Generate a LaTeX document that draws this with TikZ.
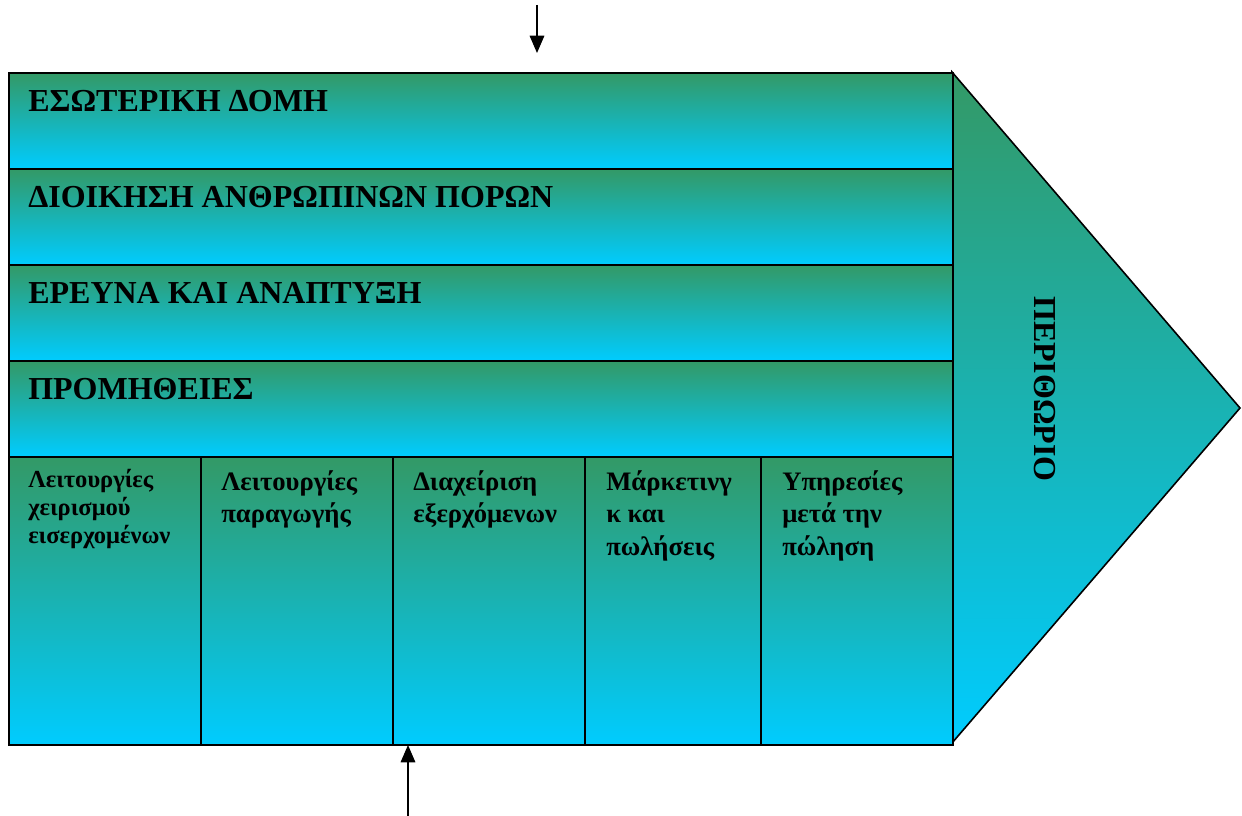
\documentclass[tikz,border=0pt]{standalone}
\usepackage{fontspec}
\setmainfont{Liberation Serif}
\usetikzlibrary{arrows.meta}
\definecolor{valgreen}{RGB}{51,153,102}
\definecolor{valcyan}{RGB}{0,204,255}
\tikzset{
    band/.style={draw, line width=1.2pt, rectangle, anchor=north west, inner sep=0pt, top color=valgreen, bottom color=valcyan, minimum width=708pt, minimum height=72pt},
    cell/.style={draw, line width=1.2pt, rectangle, anchor=north west, inner sep=0pt, top color=valgreen, bottom color=valcyan, minimum height=216pt},
    bandtext/.style={anchor=base west, inner sep=0pt, font=\fontsize{24}{28}\selectfont\bfseries},
    celltext/.style={anchor=north west, inner sep=0pt, align=left, font=\fontsize{20}{24.5}\selectfont\bfseries},
    flowArrow/.style={line width=0.9pt, -{Triangle[length=13pt, width=11pt]}},
}
\begin{document}
\begin{tikzpicture}[x=0.75pt, y=-0.75pt]
\useasboundingbox (0,0) rectangle (1242,816);

% margin arrow
\shade[draw, line width=1.2pt, top color=valgreen, bottom color=valcyan] (952,72) -- (1240,408) -- (952,743) -- cycle;
\node[rotate=-90, font=\fontsize{24}{28}\selectfont\bfseries] (margin) at (1045,389) {ΠΕΡΙΘΩΡΙΟ};

% support activities
\node[band] (structure) at (8,72) {};
\node[band] (hrm) at (8,168) {};
\node[band] (rnd) at (8,264) {};
\node[band] (supply) at (8,360) {};
\node[bandtext] (structureL) at (28,112) {ΕΣΩΤΕΡΙΚΗ ΔΟΜΗ};
\node[bandtext] (hrmL) at (28,208) {ΔΙΟΙΚΗΣΗ ΑΝΘΡΩΠΙΝΩΝ ΠΟΡΩΝ};
\node[bandtext] (rndL) at (28,304) {ΕΡΕΥΝΑ ΚΑΙ ΑΝΑΠΤΥΞΗ};
\node[bandtext] (supplyL) at (28,400) {ΠΡΟΜΗΘΕΙΕΣ};

% primary activities
\node[cell, minimum width=144pt] (inbound) at (8,456) {};
\node[cell, minimum width=144pt] (operations) at (200,456) {};
\node[cell, minimum width=144pt] (outbound) at (392,456) {};
\node[cell, minimum width=132pt] (marketing) at (584,456) {};
\node[cell, minimum width=144pt] (service) at (760,456) {};
\node[celltext, font=\fontsize{18.4}{21}\selectfont\bfseries] (inboundL) at (28,469) {Λειτουργίες\\χειρισμού\\εισερχομένων};
\node[celltext] (operationsL) at (221,470) {Λειτουργίες\\παραγωγής};
\node[celltext] (outboundL) at (413,470) {Διαχείριση\\εξερχόμενων};
\node[celltext] (marketingL) at (606,470) {Μάρκετινγ\\κ και\\πωλήσεις};
\node[celltext] (serviceL) at (782,470) {Υπηρεσίες\\μετά την\\πώληση};

% inputs
\coordinate (topIn) at (537,5);
\coordinate (topTip) at (537,53);
\coordinate (botIn) at (408,816);
\coordinate (botTip) at (408,745);
\draw[flowArrow] (topIn) -- (topTip);
\draw[flowArrow] (botIn) -- (botTip);

\end{tikzpicture}
\end{document}
